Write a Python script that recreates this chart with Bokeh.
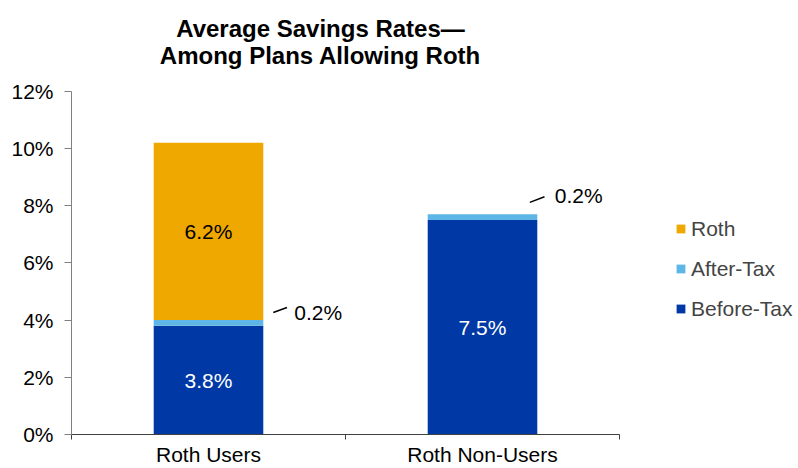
from bokeh.plotting import figure
from bokeh.models import (ColumnDataSource, Range1d, FixedTicker, Legend, LegendItem,
                          Label, LinearAxis)
from bokeh.core.properties import value
from bokeh.embed import file_html
from bokeh.resources import INLINE

# ---------------- data ----------------
categories = ["Roth Users", "Roth Non-Users"]
before_tax = [3.8, 7.5]
after_tax = [0.2, 0.2]
roth = [6.2, 0.0]
series_names = ["Before-Tax", "After-Tax", "Roth"]
y_ticks = [0, 2, 4, 6, 8, 10, 12]
title_text = "Average Savings Rates\u2014\nAmong Plans Allowing Roth"

# ---------------- style / layout ----------------
series_colors = ["#0039A6", "#5DB6E6", "#EFA800"]
inside_text_colors = {"Before-Tax": "white", "After-Tax": "black", "Roth": "black"}
FONT = "Liberation Sans"
FS = "21px"
BAR_W = 0.4
W, H = 798, 468
LEFT, BOTTOM = 71, 33
AXIS_W = 548        # pixel length of the category axis
Y_PX = 344          # pixel length of the value axis (0..12)
Y_MAX = 12
# callout offsets in pixels (from bar right edge / segment middle), per category
co_start = [(10, 10.5), (-7.5, 14.8)]
co_end = [(23.7, 15.5), (7.2, 20.4)]
co_label = [(31, 10.5), (17.5, 22)]

n = len(categories)
x_pos = [i + 0.5 for i in range(n)]
frame_w = W - LEFT
frame_h = H - BOTTOM
src = ColumnDataSource(dict(x=x_pos, cat=categories,
                            **{"Before-Tax": before_tax, "After-Tax": after_tax, "Roth": roth}))

p = figure(width=W, height=H, output_backend="svg", toolbar_location=None,
           x_range=Range1d(0, n * frame_w / AXIS_W),
           y_range=Range1d(0, Y_MAX * frame_h / Y_PX),
           min_border_left=LEFT, min_border_right=0, min_border_top=0,
           min_border_bottom=BOTTOM, x_axis_type=None, y_axis_type=None)
p.title.visible = False
p.outline_line_color = None
p.background_fill_color = "white"
p.border_fill_color = "white"

# y axis
yax = LinearAxis(ticker=FixedTicker(ticks=y_ticks), bounds=(0, Y_MAX),
                 major_label_overrides={t: f"{t}%" for t in y_ticks},
                 axis_line_color="#808080", major_tick_line_color="#808080",
                 major_tick_out=7, major_tick_in=0, minor_tick_out=0, minor_tick_in=0,
                 major_label_standoff=11,
                 major_label_text_font=FONT, major_label_text_font_size=FS,
                 major_label_text_color="black")
p.add_layout(yax, "left")

# x axis (categories at bar centres, tick marks at category boundaries)
xax = LinearAxis(ticker=FixedTicker(ticks=x_pos, minor_ticks=list(range(n + 1))),
                 bounds=(0, n),
                 major_label_overrides={x: c for x, c in zip(x_pos, categories)},
                 axis_line_color="#404040", major_tick_out=0, major_tick_in=0,
                 minor_tick_out=5, minor_tick_in=0, minor_tick_line_color="#404040",
                 major_label_standoff=3,
                 major_label_text_font=FONT, major_label_text_font_size=FS,
                 major_label_text_color="black")
p.add_layout(xax, "below")

# bars
rs = p.vbar_stack(series_names, x="x", width=BAR_W, source=src,
                  fill_color=series_colors, line_color=None)

# value labels
series_vals = {"Before-Tax": before_tax, "After-Tax": after_tax, "Roth": roth}
in_x, in_y, in_t, in_c = [], [], [], []
out_x, out_y, out_t, out_dx, out_dy = [], [], [], [], []
seg_x0, seg_y0, seg_x1, seg_y1 = [], [], [], []
px_per_x = AXIS_W / n
px_per_y = Y_PX / Y_MAX
for i in range(n):
    base = 0.0
    for nm in series_names:
        v = series_vals[nm][i]
        if v > 0:
            mid = base + v / 2
            if v >= 1:
                in_x.append(x_pos[i]); in_y.append(mid)
                in_t.append(f"{v:.1f}%"); in_c.append(inside_text_colors[nm])
            else:
                edge = x_pos[i] + BAR_W / 2
                out_x.append(edge); out_y.append(mid); out_t.append(f"{v:.1f}%")
                out_dx.append(co_label[i][0]); out_dy.append(-co_label[i][1])
                seg_x0.append(edge + co_start[i][0] / px_per_x)
                seg_y0.append(mid + co_start[i][1] / px_per_y)
                seg_x1.append(edge + co_end[i][0] / px_per_x)
                seg_y1.append(mid + co_end[i][1] / px_per_y)
        base += v

p.text(x=in_x, y=in_y, text=in_t, text_color=in_c, text_align="center",
       text_baseline="middle", text_font=value(FONT), text_font_size=FS)
p.segment(x0=seg_x0, y0=seg_y0, x1=seg_x1, y1=seg_y1, line_color="black", line_width=1.5)
p.text(x=out_x, y=out_y, text=out_t, x_offset=out_dx, y_offset=out_dy,
       text_color="black", text_align="left", text_baseline="middle",
       text_font=value(FONT), text_font_size=FS)

# title
p.add_layout(Label(x=320 - LEFT, y=frame_h - 15, x_units="screen", y_units="screen",
                   text=title_text, text_align="center", text_baseline="top",
                   text_font=FONT, text_font_size="24px", text_font_style="bold",
                   text_line_height=1.0, text_color="black"))

# legend
items = [LegendItem(label=nm, renderers=[r]) for nm, r in reversed(list(zip(series_names, rs)))]
legend = Legend(items=items, location=(604, 113), orientation="vertical",
                glyph_width=11, glyph_height=11, label_standoff=5,
                label_height=25, spacing=15, padding=0, margin=0,
                border_line_color=None, background_fill_alpha=0,
                label_text_font=FONT, label_text_font_size=FS)
p.add_layout(legend)

open("out.html", "w").write(file_html(p, INLINE))
